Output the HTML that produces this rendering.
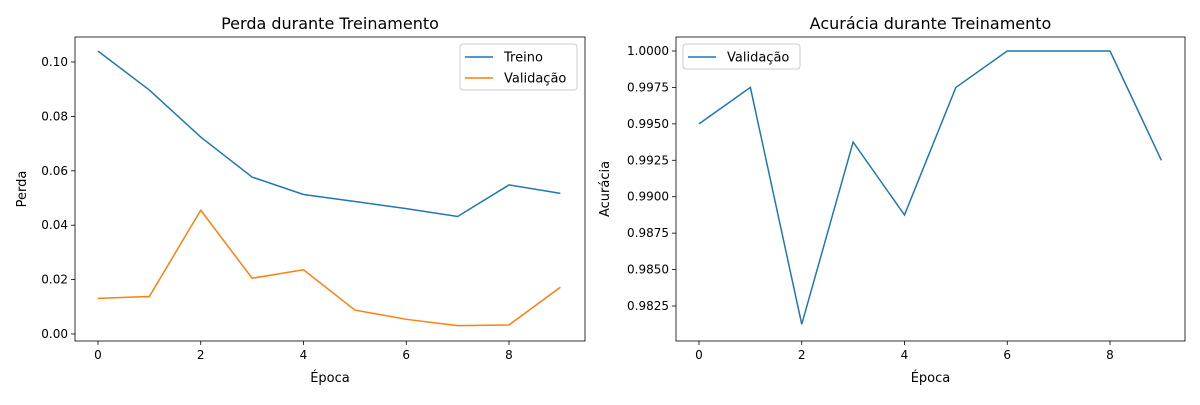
<!DOCTYPE html>
<html><head><meta charset="utf-8"><style>
body{margin:0;background:#fff;font-family:"Liberation Sans","DejaVu Sans",sans-serif;}
svg text{font-family:"DejaVu Sans","Liberation Sans",sans-serif;}
</style></head><body>
<svg id="c" width="1200" height="400" xmlns="http://www.w3.org/2000/svg"></svg>
<script>
const epochs=[0,1,2,3,4,5,6,7,8,9];
const trainLoss=[0.104,0.0897,0.0724,0.0577,0.0513,0.0487,0.0461,0.0432,0.0548,0.0517];
const valLoss=[0.0131,0.0138,0.0455,0.0205,0.0236,0.0088,0.0054,0.0031,0.0033,0.0172];
const valAcc=[0.995,0.9975,0.98125,0.99375,0.98875,0.9975,1,1,1,0.9925];
const xTicks=[0,2,4,6,8];
const lossTicks=[0,0.02,0.04,0.06,0.08,0.10];
const accTicks=[0.9825,0.985,0.9875,0.99,0.9925,0.995,0.9975,1.0];
const NS="http://www.w3.org/2000/svg";
const svg=document.getElementById('c');
function el(t,a,p){const e=document.createElementNS(NS,t);for(const k in a)e.setAttribute(k,a[k]);(p||svg).appendChild(e);return e;}
function panel(o){
  const g=el('g',{});
  
  
  const xs=v=>o.x0+(v-0)*(o.x8-o.x0)/8;
  const ys=v=>o.yA+(v-o.vA)*(o.yB-o.yA)/(o.vB-o.vA);
  xTicks.forEach(t=>{const x=xs(t);
    el('line',{x1:x,x2:x,y1:o.b,y2:o.b+4,stroke:'#000','stroke-width':0.8},g);
    const tx=el('text',{x:x,y:o.b+18,'font-size':12,'text-anchor':'middle'},g);tx.textContent=t;
    });
  o.yt.forEach(t=>{const y=ys(t);
    el('line',{x1:o.l-4,x2:o.l,y1:y,y2:y,stroke:'#000','stroke-width':0.8},g);
    const tx=el('text',{x:o.l-7,y:y+4,'font-size':12,'text-anchor':'end'},g);tx.textContent=t.toFixed(o.dec);
    });
  o.series.forEach(s=>{
    const p=el('polyline',{points:s.v.map((v,i)=>xs(epochs[i])+','+ys(v)).join(' '),fill:'none',stroke:s.c,'stroke-width':1.5},g);
    });
  el('rect',{x:o.l,y:o.t,width:o.r-o.l,height:o.b-o.t,fill:'none',stroke:'#000','stroke-width':0.8},g);
  const ti=el('text',{x:(o.l+o.r)/2,y:o.t-8,'font-size':16,'text-anchor':'middle'},g);ti.textContent=o.title;
  
  const xl=el('text',{x:(o.l+o.r)/2,y:382,'font-size':13,'text-anchor':'middle'},g);xl.textContent='Época';
  
  const cy=(o.t+o.b)/2;
  const yl=el('text',{x:o.ylx,y:cy,'font-size':13,'text-anchor':'middle',transform:`rotate(-90 ${o.ylx} ${cy})`},g);yl.textContent=o.ylabel;
  
  const lg=el('g',{},g);
  
  el('rect',{x:o.lg[0],y:o.lg[1],width:o.lg[2],height:o.lg[3],rx:3,fill:'#fff',stroke:'#ccc','stroke-width':1},lg);
  o.series.forEach((s,i)=>{const y=o.lg[1]+13+i*21;
    el('line',{x1:o.lg[0]+5,x2:o.lg[0]+33,y1:y,y2:y,stroke:s.c,'stroke-width':1.5},lg);
    const t=el('text',{x:o.lg[0]+44,y:y+4.5,'font-size':13},lg);t.textContent=s.label;
    });
}
panel({name:'loss-chart',l:75,r:585,t:37,b:341,x0:98,x8:509,yA:334,vA:0,yB:62,vB:0.1,yt:lossTicks,dec:2,
  title:'Perda durante Treinamento',ylabel:'Perda',ylx:26,lg:[460,44,117,46],
  series:[{v:trainLoss,c:'#1f77b4',n:'train-loss-line',label:'Treino'},{v:valLoss,c:'#ff7f0e',n:'val-loss-line',label:'Validação'}]});
panel({name:'accuracy-chart',l:676,r:1185,t:37,b:341,x0:699,x8:1110,yA:51,vA:1.0,yB:306,vB:0.9825,yt:accTicks,dec:4,
  title:'Acurácia durante Treinamento',ylabel:'Acurácia',ylx:609,lg:[683,44,117,25],
  series:[{v:valAcc,c:'#1f77b4',n:'val-accuracy-line',label:'Validação'}]});
</script>
</body></html>
